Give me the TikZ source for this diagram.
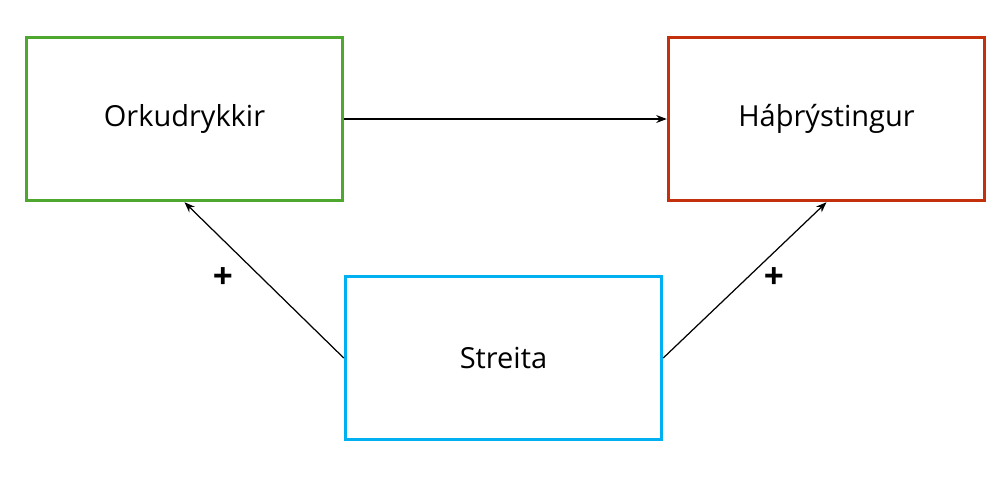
\documentclass[tikz,border=0pt]{standalone}
\usepackage{fontspec}
\setmainfont{Open Sans}
\usetikzlibrary{arrows.meta, positioning}

\definecolor{boxgreen}{RGB}{78,167,46}
\definecolor{boxred}{RGB}{196,48,12}
\definecolor{boxblue}{RGB}{0,176,240}

\begin{document}
\begin{tikzpicture}[x=0.02cm,y=-0.02cm,
    factor/.style={draw, line width=2pt, minimum width=6.32cm, minimum height=3.26cm,
                   inner sep=0pt, font=\fontsize{16.5}{20}\selectfont},
    link/.style={-{Stealth[length=6pt,width=4.5pt]}, line width=0.7pt},
    sign/.style={font=\fontsize{20}{22}\selectfont\bfseries}]
\useasboundingbox (0,0) rectangle (1005,478);

\node[factor, draw=boxgreen] (orka) at (184.5,119) {Orkudrykkir};
\node[factor, draw=boxred]   (hbt)  at (826.5,119) {Háþrýstingur};
\node[factor, draw=boxblue]  (streita) at (503.5,358) {Streita};

\draw[link] (orka.east) -- (hbt.west);
\draw[link] (streita.west) -- (orka.south);
\draw[link] (streita.east) -- (hbt.south);

\node[sign] (plusL) at (223,278) {+};
\node[sign] (plusR) at (774,278) {+};
\end{tikzpicture}
\end{document}
